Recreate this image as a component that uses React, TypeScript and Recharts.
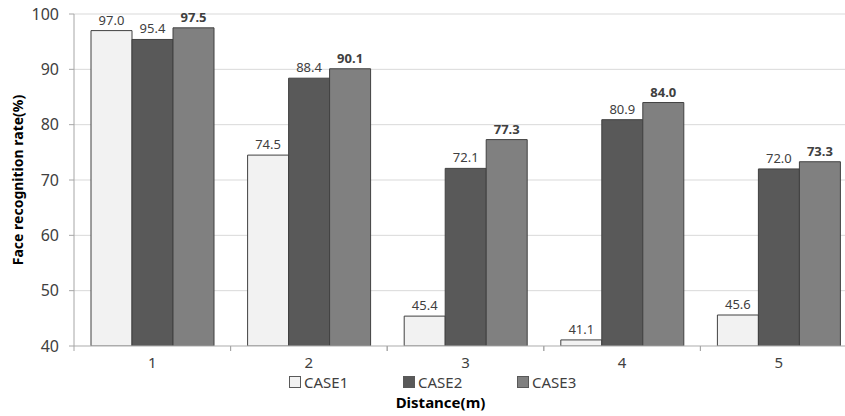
import { BarChart, Bar, XAxis, YAxis, CartesianGrid, Legend, LabelList, Label } from 'recharts';

const distances = ['1', '2', '3', '4', '5'];
const case1 = [97.0, 74.5, 45.4, 41.1, 45.6];
const case2 = [95.4, 88.4, 72.1, 80.9, 72.0];
const case3 = [97.5, 90.1, 77.3, 84.0, 73.3];
const yTicks = [40, 50, 60, 70, 80, 90, 100];

const SERIES = [
  { key: 'CASE1', fill: '#f2f2f2', bold: false },
  { key: 'CASE2', fill: '#595959', bold: false },
  { key: 'CASE3', fill: '#808080', bold: true },
];

const data = distances.map((d, i) => ({
  name: d,
  CASE1: case1[i],
  CASE2: case2[i],
  CASE3: case3[i],
}));

const FONT = '"Noto Sans", "DejaVu Sans", sans-serif';
const TEXT = '#404040';

const XTick = (props: any) => {
  const { x, y, payload } = props;
  const half = payload.offset || 0;
  return (
    <g>
      <line x1={x - half} y1={y - 8} x2={x - half} y2={y - 3} stroke="#a6a6a6" />
      <line x1={x + half} y1={y - 8} x2={x + half} y2={y - 3} stroke="#a6a6a6" />
      <text x={x} y={y + 14} textAnchor="middle" fontSize={15} fill={TEXT} fontFamily={FONT}>
        {payload.value}
      </text>
    </g>
  );
};

const LegendContent = () => (
  <div style={{ display: 'flex', fontFamily: FONT, fontSize: 15, color: TEXT }}>
    {SERIES.map((s) => (
      <div key={s.key} style={{ display: 'flex', alignItems: 'center', width: 114 }}>
        <span
          style={{
            display: 'inline-block',
            width: 10,
            height: 10,
            background: s.fill,
            border: '1px solid #595959',
            marginRight: 3,
          }}
        />
        <span>{s.key}</span>
      </div>
    ))}
  </div>
);

export default function App() {
  return (
    <div
      style={{
        position: 'fixed',
        left: 0,
        top: 0,
        width: 845,
        height: 416,
        overflow: 'hidden',
        background: '#fff',
      }}
    >
      <BarChart
        width={857}
        height={416}
        data={data}
        margin={{ top: 14, right: 0, bottom: 0, left: 0 }}
        barGap={0}
        barCategoryGap={17}
      >
        <CartesianGrid vertical={false} stroke="#d9d9d9" />
        <XAxis
          dataKey="name"
          height={70}
          axisLine={{ stroke: '#bfbfbf' }}
          tickLine={false}
          tick={<XTick />}
          interval={0}
        >
          <Label
            value="Distance(m)"
            position="insideBottom"
            offset={8}
            dx={-25}
            style={{ fontFamily: FONT, fontSize: 15, fontWeight: 'bold', fill: '#000' }}
          />
        </XAxis>
        <YAxis
          width={74}
          domain={[40, 100]}
          ticks={yTicks}
          axisLine={{ stroke: '#a6a6a6' }}
          tickLine={{ stroke: '#a6a6a6' }}
          tickSize={5}
          tickMargin={10}
          tick={{ fontFamily: FONT, fontSize: 16, fill: TEXT }}
          allowDataOverflow
        >
          <Label
            value="Face recognition rate(%)"
            angle={-90}
            position="center"
            dx={-19}
            style={{ fontFamily: FONT, fontSize: 14, fontWeight: 'bold', fill: '#000', textAnchor: 'middle' }}
          />
        </YAxis>
        <Legend
          verticalAlign="middle"
          align="center"
          layout="horizontal"
          wrapperStyle={{ top: 372, left: 289, width: 350 }}
          content={<LegendContent />}
        />
        {SERIES.map((s) => (
          <Bar
            key={s.key}
            dataKey={s.key}
            fill={s.fill}
            stroke="#404040"
            strokeWidth={1}
            isAnimationActive={false}
          >
            <LabelList
              dataKey={s.key}
              position="top"
              offset={6}
              formatter={(v: any) => Number(v).toFixed(1)}
              style={{
                fontFamily: FONT,
                fontSize: 13,
                fill: TEXT,
                fontWeight: s.bold ? 'bold' : 'normal',
              }}
            />
          </Bar>
        ))}
      </BarChart>
    </div>
  );
}
